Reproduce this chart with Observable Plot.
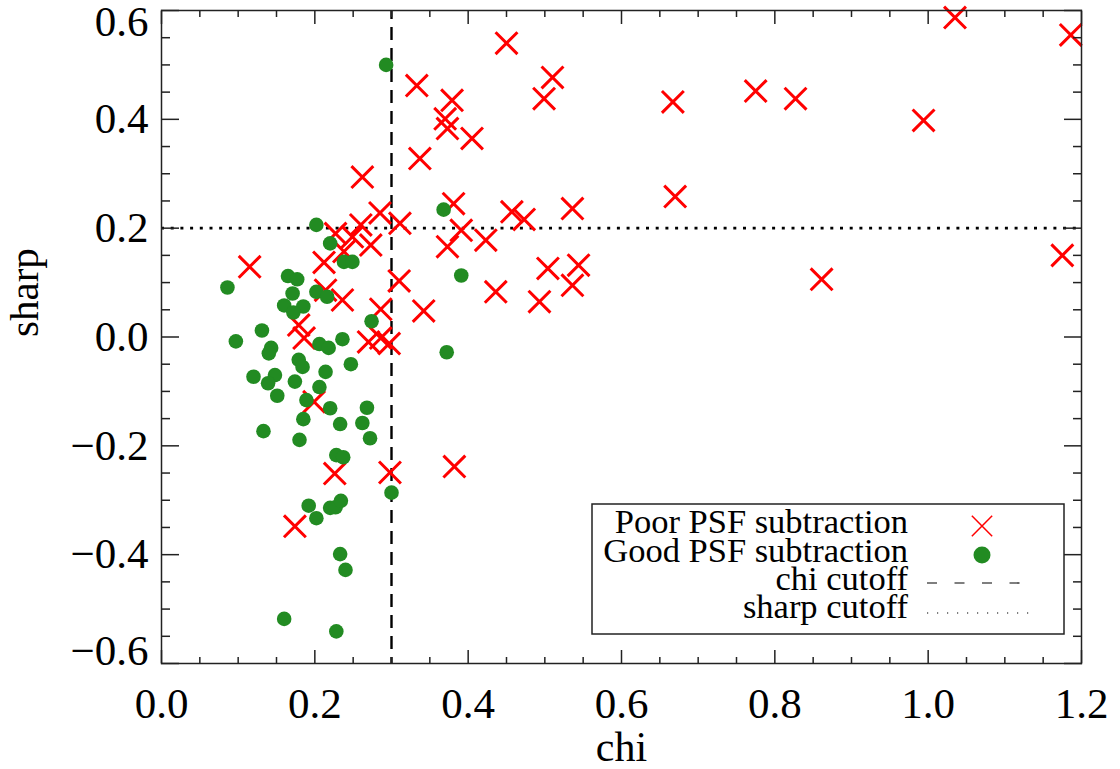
<!DOCTYPE html>
<html><head><meta charset="utf-8">
<script src="https://cdn.jsdelivr.net/npm/d3@7"></script>
<script src="https://cdn.jsdelivr.net/npm/@observablehq/plot@0.6"></script>
<style>body{margin:0;background:#fff} #chart{width:1120px;height:769px}</style>
</head><body><div id="chart"></div>
<script>
// ---- data ----
const poorChi = [0.115,0.262,0.333,0.379,0.370,0.373,0.405,0.337,0.450,0.510,0.499,0.667,0.775,0.827,0.994,1.035,1.186,
  0.381,0.285,0.311,0.260,0.227,0.249,0.273,0.238,0.212,0.391,0.373,0.423,0.457,0.473,0.536,0.670,0.504,0.544,0.536,
  0.436,0.493,0.861,1.175,0.310,0.214,0.236,0.286,0.342,0.179,0.186,0.270,0.286,0.297,0.199,0.226,0.298,0.382,0.174];
const poorSharp = [0.129,0.294,0.462,0.435,0.401,0.383,0.365,0.328,0.540,0.477,0.438,0.432,0.452,0.438,0.398,0.587,0.555,
  0.245,0.228,0.209,0.206,0.190,0.184,0.169,0.157,0.137,0.196,0.166,0.178,0.230,0.216,0.236,0.258,0.126,0.132,0.095,
  0.083,0.065,0.106,0.150,0.103,0.086,0.068,0.051,0.048,0.022,-0.002,-0.009,-0.002,-0.012,-0.119,-0.251,-0.249,-0.238,-0.348];
const goodChi = [0.293,0.368,0.202,0.220,0.238,0.249,0.391,0.086,0.165,0.177,0.171,0.202,0.216,0.160,0.185,0.172,0.274,
  0.131,0.097,0.236,0.206,0.218,0.143,0.140,0.372,0.179,0.184,0.214,0.247,0.120,0.148,0.139,0.174,0.206,0.151,0.189,
  0.220,0.268,0.185,0.233,0.262,0.133,0.180,0.272,0.228,0.237,0.300,0.192,0.220,0.227,0.234,0.202,0.233,0.240,0.160,0.228];
const goodSharp = [0.500,0.234,0.206,0.172,0.138,0.138,0.113,0.091,0.112,0.106,0.080,0.083,0.074,0.058,0.056,0.045,0.029,
  0.012,-0.008,-0.004,-0.013,-0.020,-0.020,-0.030,-0.028,-0.042,-0.055,-0.064,-0.050,-0.073,-0.070,-0.085,-0.082,-0.092,-0.108,-0.116,
  -0.131,-0.130,-0.151,-0.160,-0.158,-0.173,-0.189,-0.186,-0.217,-0.221,-0.286,-0.310,-0.314,-0.313,-0.301,-0.333,-0.399,-0.428,-0.518,-0.541];
const xTickLabels = [0.0,0.2,0.4,0.6,0.8,1.0,1.2];
const yTickLabels = [-0.6,-0.4,-0.2,0.0,0.2,0.4,0.6];
const chiCutoff = 0.3;
const sharpCutoff = 0.2;
const legendLabels = ["Poor PSF subtraction","Good PSF subtraction","chi cutoff","sharp cutoff"];
const xTitle = "chi", yTitle = "sharp";

// ---- build tables ----
const poor = poorChi.map((c,i)=>({chi:c, sharp:poorSharp[i]}));
const good = goodChi.map((c,i)=>({chi:c, sharp:goodSharp[i]}));
const isMajor = (v, list) => list.some(t => Math.abs(t - v) < 1e-6);
const xMinor = d3.range(0, 25).map(i => +(i*0.05).toFixed(2)).filter(v => !isMajor(v, xTickLabels));
const yMinor = d3.range(0, 25).map(i => +(-0.6 + i*0.05).toFixed(2)).filter(v => !isMajor(v, yTickLabels));
const fmt = d => (d < 0 ? "\u2212" : "") + Math.abs(d).toFixed(1);
const FONT = "'Liberation Serif', 'Times New Roman', serif";
const tickStyle = {label: null, tickFormat: () => "", stroke: "#222", strokeWidth: 1.5};

const plot = Plot.plot({
  width: 1120, height: 769,
  marginLeft: 161, marginRight: 39, marginTop: 10, marginBottom: 106,
  x: {domain: [0, 1.2], axis: null},
  y: {domain: [-0.6, 0.6], axis: null},
  style: {fontFamily: FONT, background: "white", color: "black", overflow: "visible"},
  marks: [
    Plot.ruleY([sharpCutoff], {stroke: "black", strokeWidth: 2.6, strokeDasharray: "3,6.7"}),
    Plot.ruleX([chiCutoff], {stroke: "black", strokeWidth: 2.4, strokeDasharray: "13,8", strokeDashoffset: 4}),
    Plot.dot(poor, {x: "chi", y: "sharp", symbol: "times", r: 10, stroke: "#ff0000", strokeWidth: 3}),
    Plot.dot(good, {x: "chi", y: "sharp", r: 7.3, fill: "#228b22", stroke: "none"}),
    Plot.frame({stroke: "#222", strokeWidth: 1.5}),
    // inward ticks on all four sides
    Plot.axisX(xTickLabels, {...tickStyle, anchor: "bottom", tickSize: -13}),
    Plot.axisX(xMinor, {...tickStyle, anchor: "bottom", tickSize: -6}),
    Plot.axisX(xTickLabels, {...tickStyle, anchor: "top", tickSize: -13}),
    Plot.axisX(xMinor, {...tickStyle, anchor: "top", tickSize: -6}),
    Plot.axisY(yTickLabels, {...tickStyle, anchor: "left", tickSize: -18}),
    Plot.axisY(yMinor, {...tickStyle, anchor: "left", tickSize: -9}),
    Plot.axisY(yTickLabels, {...tickStyle, anchor: "right", tickSize: -18}),
    Plot.axisY(yMinor, {...tickStyle, anchor: "right", tickSize: -9}),
    // tick labels
    Plot.text(xTickLabels, {x: d => d, frameAnchor: "bottom", dy: 41, text: fmt, fontSize: 43, lineAnchor: "middle", fill: "black"}),
    Plot.text(yTickLabels.slice(1, -1), {y: d => d, frameAnchor: "left", dx: -13, text: fmt, textAnchor: "end", fontSize: 43, lineAnchor: "middle", fill: "black"}),
    Plot.text(yTickLabels.slice(-1), {y: d => d, frameAnchor: "left", dx: -13, dy: 12, text: fmt, textAnchor: "end", fontSize: 43, lineAnchor: "middle", fill: "black"}),
    Plot.text(yTickLabels.slice(0, 1), {y: d => d, frameAnchor: "left", dx: -13, dy: -12, text: fmt, textAnchor: "end", fontSize: 43, lineAnchor: "middle", fill: "black"}),
    // axis titles
    Plot.text([xTitle], {frameAnchor: "bottom", dy: 97, lineAnchor: "bottom", fontSize: 42, fill: "black"}),
    Plot.text([yTitle], {frameAnchor: "left", rotate: -90, dx: -124, lineAnchor: "bottom", fontSize: 41, fill: "black"})
  ]
});
document.getElementById("chart").appendChild(plot);

// ---- legend (inside the plot frame, lower right) ----
const svg = d3.select(plot);
const lg = svg.append("g").attr("font-family", FONT);
lg.append("rect").attr("x", 592).attr("y", 504).attr("width", 472).attr("height", 130)
  .attr("fill", "white").attr("stroke", "#222").attr("stroke-width", 1.5);
const baselines = [533, 561.5, 590, 618];
lg.selectAll("text.lab").data(legendLabels).join("text").attr("class", "lab")
  .attr("x", 908).attr("y", (d, i) => baselines[i]).attr("text-anchor", "end")
  .attr("font-size", 34.5).attr("fill", "black").text(d => d);
// symbols
const sx = 982;
lg.append("path").attr("d", d3.symbol(d3.symbolTimes, Math.PI * 9.3 * 9.3)())
  .attr("transform", `translate(${sx},526)`).attr("stroke", "#ff0000").attr("stroke-width", 1.5).attr("fill", "none");
lg.append("circle").attr("cx", sx).attr("cy", 555).attr("r", 8.5).attr("fill", "#228b22");
lg.append("line").attr("x1", 927).attr("x2", 1024).attr("y1", 583).attr("y2", 583)
  .attr("stroke", "black").attr("stroke-width", 1.2).attr("stroke-dasharray", "10,17.5");
lg.append("line").attr("x1", 927).attr("x2", 1036).attr("y1", 613).attr("y2", 613)
  .attr("stroke", "black").attr("stroke-width", 1.2).attr("stroke-dasharray", "1.2,8.8");
</script>
</body></html>
